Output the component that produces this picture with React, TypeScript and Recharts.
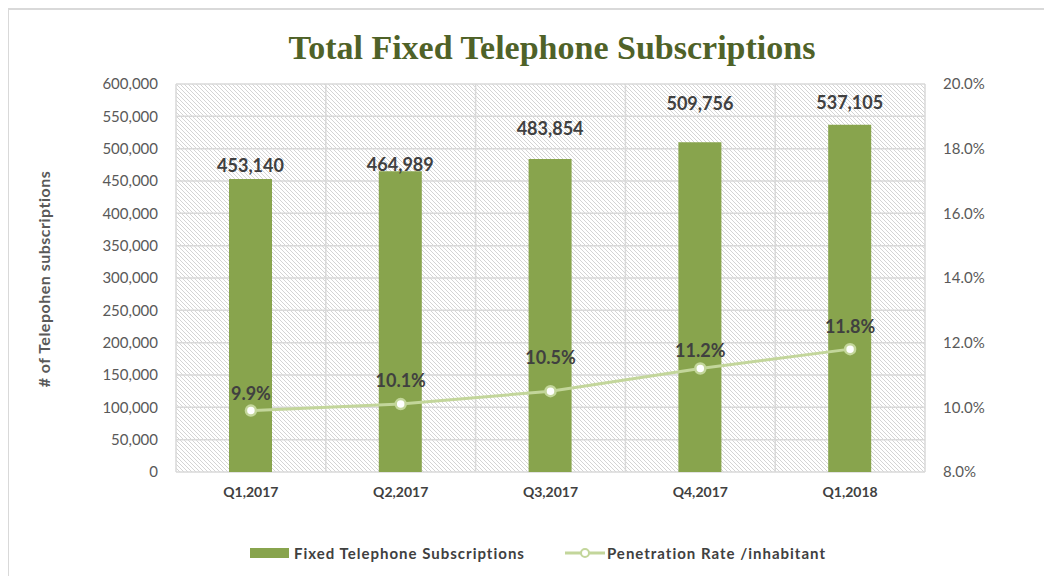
import {
  Bar,
  CartesianGrid,
  ComposedChart,
  LabelList,
  Legend,
  Line,
  XAxis,
  YAxis,
} from "recharts";

const QUARTERS = ["Q1,2017", "Q2,2017", "Q3,2017", "Q4,2017", "Q1,2018"];
const SUBSCRIPTIONS = [453140, 464989, 483854, 509756, 537105];
const PENETRATION = [9.9, 10.1, 10.5, 11.2, 11.8];

const LEFT_TICKS = [0, 50000, 100000, 150000, 200000, 250000, 300000, 350000, 400000, 450000, 500000, 550000, 600000];
const RIGHT_TICKS = [8, 10, 12, 14, 16, 18, 20];
const BOUNDARY_TICKS = [0, 1, 2, 3, 4, 5];

// labels were nudged by hand in the original, keep the same lift (px above the mark)
const BAR_LABEL_LIFT = [14, 7, 31, 39, 23];
const LINE_LABEL_LIFT = [18, 24, 34, 19, 23];

const BAR_COLOR = "#88a44d";
const LINE_COLOR = "#c3d69b";
const GRID_COLOR = "#d9d9d9";
const FONT = "Lato, 'Open Sans', sans-serif";

const data = QUARTERS.map((quarter, i) => ({
  quarter,
  subscriptions: SUBSCRIPTIONS[i],
  rate: PENETRATION[i],
}));

const fmtNumber = (v: number) => v.toLocaleString("en-US");
const fmtPercent = (v: number) => `${v.toFixed(1)}%`;

function BarValueLabel(props: any) {
  const { x, y, width, value, index } = props;
  return (
    <text
      x={Number(x) + Number(width) / 2}
      y={Number(y) - BAR_LABEL_LIFT[index]}
      textAnchor="middle"
      dominantBaseline="central"
      fill="#404040"
      fontSize={18}
      fontWeight={700}
      fontFamily={FONT}
    >
      {fmtNumber(Number(value))}
    </text>
  );
}

function RateLabel(props: any) {
  const { x, y, value, index } = props;
  return (
    <text
      x={Number(x)}
      y={Number(y) - LINE_LABEL_LIFT[index]}
      textAnchor="middle"
      dominantBaseline="central"
      fill="#404040"
      fontSize={18}
      fontWeight={700}
      fontFamily={FONT}
    >
      {fmtPercent(Number(value))}
    </text>
  );
}

function LegendContent() {
  return (
    <div
      style={{
        height: 20,
        display: "flex",
        justifyContent: "center",
        alignItems: "center",
        gap: 40,
        paddingLeft: 16,
        fontFamily: FONT,
        fontSize: 15,
        fontWeight: 700,
        letterSpacing: 1,
        color: "#404040",
      }}
    >
      <div style={{ display: "flex", alignItems: "center", gap: 5 }}>
        <span style={{ width: 39, height: 10, background: BAR_COLOR, display: "inline-block" }} />
        <span>Fixed Telephone Subscriptions</span>
      </div>
      <div style={{ display: "flex", alignItems: "center", gap: 2 }}>
        <svg width={40} height={12}>
          <line x1={0} y1={6} x2={40} y2={6} stroke={LINE_COLOR} strokeWidth={3} />
          <circle cx={20} cy={6} r={4} fill="#fff" stroke={LINE_COLOR} strokeWidth={2} />
        </svg>
        <span>Penetration Rate /inhabitant</span>
      </div>
    </div>
  );
}

export default function App() {
  return (
    <div style={{ position: "relative", width: 1044, height: 568 }}>
      <div
        style={{
          position: "absolute",
          left: 0,
          top: 21,
          width: 1088,
          textAlign: "center",
          fontFamily: "'Liberation Serif', serif",
          fontWeight: 700,
          fontSize: 34,
          color: "#4f6228",
        }}
      >
        Total Fixed Telephone Subscriptions
      </div>
      <ComposedChart
        width={1044}
        height={568}
        data={data}
        margin={{ top: 76, right: 0, bottom: 13, left: 0 }}
      >
        <defs>
          <pattern id="hatch" width={4} height={4} patternUnits="userSpaceOnUse">
            <rect width={4} height={4} fill="#ffffff" />
            <path d="M-1,-1 L5,5 M3,-1 L5,1 M-1,3 L1,5" stroke="#d4d4d4" strokeWidth={1} />
          </pattern>
        </defs>
        <XAxis
          xAxisId="edges"
          type="number"
          dataKey={() => 0}
          domain={[0, 5]}
          ticks={BOUNDARY_TICKS}
          height={0}
          tickFormatter={() => ""}
          tickSize={6}
          tickLine={{ stroke: GRID_COLOR, strokeWidth: 1.5 }}
          axisLine={{ stroke: GRID_COLOR, strokeWidth: 1.5 }}
          allowDataOverflow
        />
        <XAxis
          xAxisId="cat"
          dataKey="quarter"
          height={71}
          axisLine={false}
          tickLine={false}
          tickSize={0}
          tickMargin={15}
          tick={{ fill: "#404040", fontSize: 14, fontWeight: 700, fontFamily: FONT }}
        />
        <YAxis
          yAxisId="left"
          width={168}
          domain={[0, 600000]}
          ticks={LEFT_TICKS}
          tickFormatter={fmtNumber}
          axisLine={false}
          tickLine={false}
          tickSize={0}
          tickMargin={18}
          tick={{ fill: "#595959", fontSize: 15, fontFamily: FONT }}
          label={{
            content: ({ viewBox }: any) => (
              <text
                x={viewBox.x + 35}
                y={viewBox.y + viewBox.height / 2 + 1}
                transform={`rotate(-90 ${viewBox.x + 35} ${viewBox.y + viewBox.height / 2 + 1})`}
                textAnchor="middle"
                dominantBaseline="central"
                fill="#595959"
                fontFamily={FONT}
                fontSize={16}
                fontWeight={700}
                letterSpacing={0.5}
              >
                # of Telepohen subscriptions
              </text>
            ),
          }}
        />
        <YAxis
          yAxisId="right"
          orientation="right"
          width={127}
          domain={[8, 20]}
          ticks={RIGHT_TICKS}
          tickFormatter={fmtPercent}
          axisLine={false}
          tickLine={false}
          tickSize={0}
          tickMargin={18}
          tick={{ fill: "#595959", fontSize: 15, fontFamily: FONT, textAnchor: "start" }}
        />
        <CartesianGrid
          xAxisId="edges"
          yAxisId="left"
          fill="url(#hatch)"
          fillOpacity={1}
          stroke={GRID_COLOR}
          strokeWidth={1.5}
        />
        <Legend verticalAlign="bottom" content={<LegendContent />} />
        <Bar
          xAxisId="cat"
          yAxisId="left"
          dataKey="subscriptions"
          name="Fixed Telephone Subscriptions"
          fill={BAR_COLOR}
          barSize={43}
          isAnimationActive={false}
        >
          <LabelList dataKey="subscriptions" content={<BarValueLabel />} />
        </Bar>
        <Line
          xAxisId="cat"
          yAxisId="right"
          dataKey="rate"
          name="Penetration Rate /inhabitant"
          stroke={LINE_COLOR}
          strokeWidth={3}
          dot={{ r: 5, fill: "#ffffff", stroke: LINE_COLOR, strokeWidth: 2.5 }}
          isAnimationActive={false}
        >
          <LabelList dataKey="rate" content={<RateLabel />} />
        </Line>
      </ComposedChart>
      <div
        style={{
          position: "absolute",
          left: -1,
          top: 0,
          right: 0,
          bottom: 0,
          borderTop: `2px solid ${GRID_COLOR}`,
          borderLeft: `2px solid ${GRID_COLOR}`,
          pointerEvents: "none",
        }}
      />
    </div>
  );
}
